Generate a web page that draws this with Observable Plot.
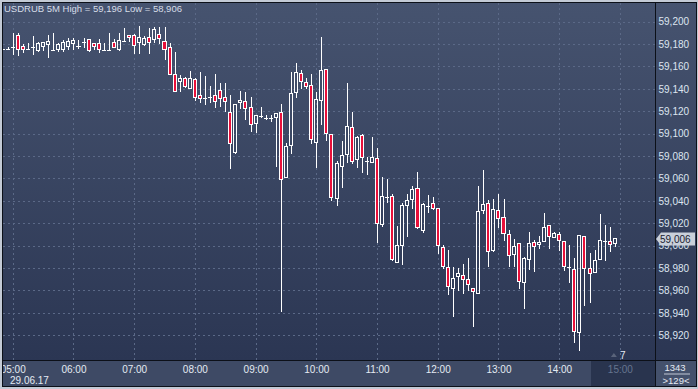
<!DOCTYPE html>
<html><head><meta charset="utf-8">
<script src="https://cdn.jsdelivr.net/npm/d3@7"></script>
<script src="https://cdn.jsdelivr.net/npm/@observablehq/plot@0.6"></script>
<style>
html,body{margin:0;padding:0;background:#c3cad5;overflow:hidden}
#chart{width:698px;height:389px}
svg{display:block}
</style></head><body><div id="chart"></div>
<script>
const symbol = "USDRUB";
const period = "5M";
const dateLabel = "29.06.17";
const startTime = "04:50";
const barMinutes = 5;
const barsTotal = "1343";
const barsVisible = ">129<";
const countdown = "7";

const open = [59.1753,59.1753,59.1777,59.1873,59.1777,59.1753,59.1777,59.1742,59.1777,59.1798,
59.1748,59.1753,59.1748,59.1783,59.1801,59.1783,59.1822,59.1837,59.1801,59.1801,
59.1748,59.1748,59.1813,59.1753,59.1828,59.1875,59.1880,59.1816,59.1800,59.1860,
59.1837,59.1890,59.1820,59.1770,59.1530,59.1470,59.1490,59.1405,59.1480,59.1337,
59.1316,59.1325,59.1337,59.1384,59.1325,59.1190,59.0830,59.1277,59.1290,59.1236,
59.1093,59.1158,59.1143,59.1137,59.1146,59.1190,59.0608,59.0893,59.1370,59.1539,
59.1459,59.1429,59.0923,59.1295,59.1575,59.0994,59.0423,59.0706,59.0816,59.1054,
59.0765,59.0983,59.0760,59.0745,59.0780,59.0191,59.0432,59.0438,58.9849,58.9998,
59.0358,59.0414,59.0507,59.0135,59.0355,59.0373,59.0328,58.9980,58.9804,58.9614,
58.9724,58.9730,58.9694,58.9620,58.9575,59.0310,59.0378,58.9955,59.0318,59.0253,
59.0104,58.9917,59.0015,58.9670,58.9878,59.0027,59.0012,59.0036,59.0184,59.0074,
59.0104,59.0036,58.9807,58.9789,58.9223,59.0086,58.9792,58.9759,58.9878,59.0035,
59.0041,59.0021];
const high = [59.1760,59.1777,59.1896,59.1896,59.1801,59.1807,59.1873,59.1822,59.1820,59.1881,
59.1896,59.1813,59.1837,59.1852,59.1852,59.1837,59.1852,59.1843,59.1813,59.1843,
59.1813,59.1902,59.1843,59.1896,59.1940,59.1875,59.1890,59.1960,59.1870,59.1940,
59.1950,59.1950,59.1955,59.1810,59.1730,59.1520,59.1510,59.1560,59.1495,59.1550,
59.1515,59.1426,59.1530,59.1450,59.1450,59.1346,59.1262,59.1380,59.1375,59.1330,
59.1158,59.1236,59.1167,59.1167,59.1182,59.1265,59.0914,59.1554,59.1634,59.1569,
59.1494,59.1530,59.1370,59.1866,59.1575,59.0994,59.0756,59.0935,59.1456,59.1197,
59.0980,59.0994,59.0795,59.0970,59.0870,59.0610,59.0593,59.0459,59.0176,59.0379,
59.0459,59.0536,59.0655,59.0379,59.0453,59.0438,59.0328,59.0006,58.9962,58.9813,
58.9798,58.9837,58.9893,58.9620,59.0533,59.0676,59.0408,59.0414,59.0460,59.0414,
59.0140,59.0057,59.0027,58.9902,59.0119,59.0050,59.0090,59.0289,59.0184,59.0125,
59.0119,59.0036,59.0006,58.9887,59.0095,59.0086,58.9937,58.9961,59.0283,59.0184,
59.0164,59.0060];
const low = [59.1750,59.1753,59.1703,59.1697,59.1724,59.1748,59.1703,59.1733,59.1740,59.1673,
59.1742,59.1733,59.1733,59.1748,59.1748,59.1753,59.1762,59.1733,59.1748,59.1724,
59.1742,59.1742,59.1762,59.1742,59.1822,59.1816,59.1710,59.1710,59.1786,59.1710,
59.1810,59.1800,59.1660,59.1520,59.1375,59.1370,59.1405,59.1405,59.1290,59.1270,
59.1256,59.1270,59.1230,59.1240,59.1190,59.0685,59.0820,59.1220,59.1120,59.1018,
59.1010,59.1137,59.1122,59.1100,59.0706,58.9410,59.0602,59.0819,59.1322,59.1396,
59.1400,59.0908,59.0697,59.1078,59.0938,59.0402,59.0358,59.0518,59.0742,59.0727,
59.0697,59.0646,59.0632,59.0740,59.0020,59.0164,59.0379,58.9864,58.9849,58.9828,
59.0075,59.0328,59.0146,59.0117,59.0295,59.0319,58.9926,58.9789,58.9560,58.9367,
58.9599,58.9569,58.9596,58.9277,58.9569,59.0283,58.9813,58.9946,59.0155,59.0045,
58.9813,58.9813,58.9613,58.9435,58.9783,58.9768,58.9970,59.0036,58.9970,59.0065,
58.9955,58.9777,58.9670,58.9134,58.9060,58.9464,58.9485,58.9759,58.9878,58.9866,
58.9946,58.9991];
const close = [59.1753,59.1753,59.1777,59.1753,59.1753,59.1753,59.1777,59.1807,59.1813,59.1822,
59.1748,59.1792,59.1813,59.1822,59.1831,59.1783,59.1822,59.1742,59.1777,59.1748,
59.1748,59.1748,59.1771,59.1830,59.1828,59.1860,59.1790,59.1860,59.1850,59.1816,
59.1930,59.1850,59.1750,59.1530,59.1380,59.1490,59.1420,59.1490,59.1320,59.1310,
59.1316,59.1325,59.1286,59.1316,59.1286,59.0910,59.1262,59.1300,59.1227,59.1084,
59.1158,59.1158,59.1143,59.1137,59.1176,59.0593,59.0890,59.1355,59.1548,59.1465,
59.1420,59.0944,59.1307,59.1563,59.1003,59.0432,59.0736,59.0804,59.1063,59.0756,
59.0968,59.0786,59.0760,59.0789,59.0200,59.0438,59.0432,58.9873,59.0000,59.0355,
59.0400,59.0498,59.0161,59.0364,59.0355,59.0328,58.9998,58.9813,58.9634,58.9709,
58.9754,58.9700,58.9649,58.9590,59.0304,59.0370,58.9946,59.0324,59.0244,59.0110,
58.9911,58.9997,58.9679,58.9887,59.0015,58.9991,59.0030,59.0164,59.0086,59.0110,
59.0050,58.9813,58.9807,58.9232,59.0095,58.9798,58.9753,58.9866,59.0050,59.0041,
59.0012,59.0060];

const hourLabels = ["05:00","06:00","07:00","08:00","09:00","10:00","11:00","12:00","13:00","14:00","15:00"];
const priceTicks = [58.92,58.94,58.96,58.98,59.00,59.02,59.04,59.06,59.08,59.10,59.12,59.14,59.16,59.18,59.20];
const currentHour = "15:00";

// ---- styling
const red = "#e8103a";
const white = "#ffffff";
const gridColor = "#5b6987";
const font = "'Liberation Sans', Arial, sans-serif";

const toMin = s => { const [h, m] = s.split(":").map(Number); return h * 60 + m; };
const base = toMin(hourLabels[0]);
const hourMin = hourLabels.map(s => toMin(s) - base);
const bars = open.map((o, i) => ({
  m: toMin(startTime) - base + i * barMinutes,
  open: o, high: high[i], low: low[i], close: close[i]
}));
const fmtPrice = v => d3.format(".3f")(v).replace(".", ",");
const hourOf = m => hourLabels[hourMin.indexOf(m)];
const curMin = toMin(currentHour) - base;

const hi = d3.max(high), lo = d3.min(low);
const title = `${symbol} ${period} High = ${fmtPrice(hi)} Low = ${fmtPrice(lo)}`;

const crisp = {shapeRendering: "crispEdges", clip: true};
const plot = Plot.plot({
  width: 698, height: 389,
  marginLeft: 3, marginRight: 43, marginTop: 3, marginBottom: 29,
  style: {background: "none", fontFamily: font, fontSize: "10px", overflow: "visible"},
  x: {domain: [-9.6, 634.7], label: null},
  y: {domain: [58.8979, 59.2167], label: null},
  marks: [
    Plot.gridY(priceTicks, {stroke: gridColor, strokeOpacity: 1, strokeDasharray: "2,3", shapeRendering: "crispEdges"}),
    Plot.gridX(hourMin, {stroke: gridColor, strokeOpacity: 1, strokeDasharray: "2,3", shapeRendering: "crispEdges"}),
    Plot.ruleX(bars, {x: "m", y1: "high", y2: d => Math.max(d.open, d.close), stroke: white, ...crisp}),
    Plot.ruleX(bars, {x: "m", y1: d => Math.min(d.open, d.close), y2: "low", stroke: white, ...crisp}),
    Plot.rect(bars.filter(d => d.close < d.open), {x1: d => d.m - 1.5, x2: d => d.m + 1.5, y1: "open", y2: "close", fill: red, stroke: white, ...crisp}),
    Plot.rect(bars.filter(d => d.close > d.open), {x1: d => d.m - 1.5, x2: d => d.m + 1.5, y1: "open", y2: "close", fill: "none", stroke: white, ...crisp}),
    Plot.ruleY(bars.filter(d => d.close === d.open), {y: "open", x1: d => d.m - 2, x2: d => d.m + 2, stroke: white, ...crisp}),
    Plot.axisY(priceTicks, {anchor: "right", tickSize: 0, tickPadding: 3, tickFormat: fmtPrice, fill: "#dde5f0", label: null}),
    Plot.axisX(hourMin.filter(m => m !== curMin), {anchor: "bottom", tickSize: 0, tickPadding: 5, tickFormat: hourOf, fill: "#e4eaf3", label: null}),
    Plot.axisX([curMin], {anchor: "bottom", tickSize: 0, tickPadding: 5, tickFormat: hourOf, fill: "#66748f", label: null})
  ]
});

document.getElementById("chart").appendChild(plot);
const svg = d3.select(plot);
const xs = plot.scale("x"), ys = plot.scale("y");

// background panels (beneath everything)
const bg = svg.insert("g", ":first-child");
const grad = bg.append("defs").append("linearGradient").attr("id", "bgGrad").attr("x1", 0).attr("y1", 0).attr("x2", 0).attr("y2", 1);
grad.append("stop").attr("offset", "0%").attr("stop-color", "#46536f");
grad.append("stop").attr("offset", "100%").attr("stop-color", "#2b3653");
bg.append("rect").attr("x", 0).attr("y", 0).attr("width", 698).attr("height", 389).attr("fill", "#c3cad5");
bg.append("rect").attr("x", 2).attr("y", 2).attr("width", 695).attr("height", 385).attr("fill", "#0c1018");
bg.append("rect").attr("x", 3).attr("y", 3).attr("width", 652).attr("height", 357).attr("fill", "url(#bgGrad)");
bg.append("rect").attr("x", 656).attr("y", 3).attr("width", 40).attr("height", 357).attr("fill", "url(#bgGrad)");
bg.append("rect").attr("x", 3).attr("y", 361).attr("width", 652).attr("height", 25).attr("fill", "#3e4a65");
bg.append("rect").attr("x", 591).attr("y", 361).attr("width", 64).attr("height", 25).attr("fill", "#29344e");
bg.append("rect").attr("x", 656).attr("y", 361).attr("width", 40).attr("height", 25).attr("fill", "#44516c");

// overlays
const over = svg.append("g").attr("font-family", font).attr("text-anchor", "start");
over.append("rect").attr("x", 0).attr("y", 0).attr("width", 2).attr("height", 389).attr("fill", "#c3cad5");
over.append("rect").attr("x", 2).attr("y", 361).attr("width", 1).attr("height", 26).attr("fill", "#0c1018");

over.append("text").attr("x", 4).attr("y", 12).attr("text-anchor", "start").attr("font-size", 9.5).attr("fill", "#d6dde8").text(title);
over.append("text").attr("x", 10).attr("y", 384).attr("text-anchor", "start").attr("font-size", 10).attr("fill", "#e4eaf3").text(dateLabel);

// current price marker
const lastClose = close[close.length - 1];
const yc = ys.apply(lastClose);
over.append("path").attr("d", `M656,${yc} L661,${yc - 6.5} L695,${yc - 6.5} L695,${yc + 6.5} L661,${yc + 6.5} Z`).attr("fill", "#c9d0da");
over.append("text").attr("x", 660).attr("y", yc + 3.6).attr("text-anchor", "start").attr("font-size", 10).attr("fill", "#1a2130").text(fmtPrice(lastClose));

// countdown marker
const xc = xs.apply(curMin);
over.append("path").attr("d", `M${xc - 9},${357} L${xc - 6},${353} L${xc - 3},${357} Z`).attr("fill", "#59637a");
over.append("text").attr("x", xc + 3).attr("y", 359).attr("text-anchor", "middle").attr("font-size", 10).attr("fill", "#e4eaf3").text(countdown);

// bar counter
over.append("text").attr("x", 675).attr("y", 371).attr("text-anchor", "middle").attr("font-size", 9.5).attr("fill", "#e4eaf3").text(barsTotal);
over.append("rect").attr("x", 664).attr("y", 373.5).attr("width", 26).attr("height", 1).attr("fill", "#c0c8d4");
over.append("text").attr("x", 676).attr("y", 384).attr("text-anchor", "middle").attr("font-size", 9.5).attr("fill", "#e4eaf3").text(barsVisible);
</script></body></html>
